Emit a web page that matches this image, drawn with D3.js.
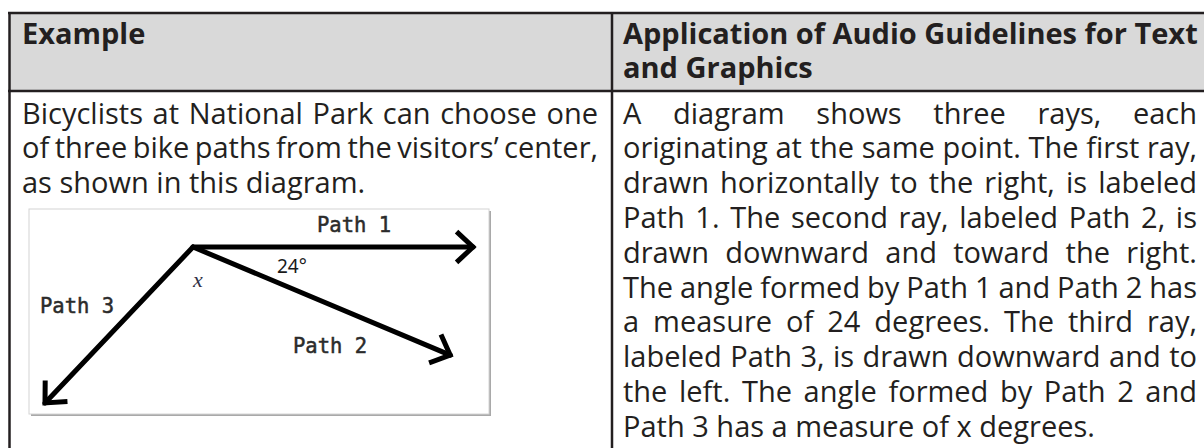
<!DOCTYPE html>
<html>
<head>
<meta charset="utf-8">
<script src="https://cdn.jsdelivr.net/npm/d3@7"></script>
<style>
  html, body { margin: 0; padding: 0; background: #fff; }
  svg { display: block; }
</style>
</head>
<body>
<svg id="chart" width="1204" height="448"></svg>
<script>
// ---------- data ----------
const headers = ["Example", "Application of Audio Guidelines for Text", "and Graphics"];
const leftLines = [
  "Bicyclists at National Park can choose one",
  "of three bike paths from the visitors\u2019 center,",
  "as shown in this diagram."
];
const rightLines = [
  "A diagram shows three rays, each",
  "originating at the same point. The first ray,",
  "drawn horizontally to the right, is labeled",
  "Path 1. The second ray, labeled Path 2, is",
  "drawn downward and toward the right.",
  "The angle formed by Path 1 and Path 2 has",
  "a measure of 24 degrees. The third ray,",
  "labeled Path 3, is drawn downward and to",
  "the left. The angle formed by Path 2 and",
  "Path 3 has a measure of x degrees."
];
const rayNames = ["Path 1", "Path 2", "Path 3"];
const rayAngles = [0, 22.8, 133.5];      // degrees, clockwise (downward) from the rightward horizontal
const rayLengths = [280, 279, 215];       // diagram units
const angleLabels = ["24\u00B0", "x"];

// ---------- setup ----------
const svg = d3.select("#chart");
const textColor = "#231f20";
const borderColor = "#231f20";
const bodyFont = "'Open Sans', 'Noto Sans', sans-serif";
const fontSize = 29;
const lineH = 34.8;

// measuring helper
const measurer = svg.append("text").attr("font-family", bodyFont).attr("visibility", "hidden");
function measure(str, weight, size) {
  measurer.attr("font-weight", weight || 400).attr("font-size", size).text(str);
  return measurer.node().getComputedTextLength();
}

// table background & borders
svg.append("rect").attr("x", 9).attr("y", 13).attr("width", 1204).attr("height", 78).attr("fill", "#d9d9d9");
const border = svg.append("g").attr("stroke", borderColor).attr("fill", "none");
border.append("line").attr("x1", 8).attr("x2", 1204).attr("y1", 13).attr("y2", 13).attr("stroke-width", 2.5);
border.append("line").attr("x1", 8).attr("x2", 1204).attr("y1", 91).attr("y2", 91).attr("stroke-width", 2.5);
border.append("line").attr("x1", 9.5).attr("x2", 9.5).attr("y1", 12).attr("y2", 448).attr("stroke-width", 2.5);
border.append("line").attr("x1", 612).attr("x2", 612).attr("y1", 12).attr("y2", 448).attr("stroke-width", 2.5);

// line placement: justified lines spread words to fill [x0, x1]
function drawLines(lines, x0, x1, y0, weight, justify) {
  const g = svg.append("g").attr("font-family", bodyFont).attr("font-size", fontSize)
    .attr("font-weight", weight).attr("fill", textColor);
  lines.forEach((line, i) => {
    const words = line.split(" ");
    const widths = words.map(w => measure(w, weight, fontSize));
    const spaceW = measure("a a", weight, fontSize) - measure("aa", weight, fontSize);
    const total = d3.sum(widths);
    const doJ = justify && i < lines.length - 1 && words.length > 1;
    const gap = doJ ? Math.max(2, (x1 - x0 - total) / (words.length - 1)) : spaceW;
    const t = g.append("text").attr("y", y0 + i * lineH);
    let x = x0;
    words.forEach((w, j) => {
      t.append("tspan").attr("x", x).text(w);
      x += widths[j] + gap;
    });
  });
}

// headers
drawLines([headers[0]], 22, 600, 43.5, 700, false);
drawLines([headers[1], headers[2]], 623, 1198, 43.5, 700, false);

// body text
drawLines(leftLines, 22, 598, 123.5, 400, true);
drawLines(rightLines, 623, 1197, 123.5, 400, true);

// ---------- diagram ----------
const frame = {x: 29, y: 209, w: 460, h: 205};
const dg = svg.append("g");
dg.append("rect").attr("x", frame.x + 2).attr("y", frame.y + 2).attr("width", frame.w).attr("height", frame.h)
  .attr("fill", "#a9a9a9");
dg.append("rect").attr("x", frame.x).attr("y", frame.y).attr("width", frame.w).attr("height", frame.h)
  .attr("fill", "#fff").attr("stroke", "#d4d4d4").attr("stroke-width", 1);

const origin = [193, 247];
const unit = d3.scaleLinear().domain([0, 1]).range([0, 1]);
const rays = rayNames.map((n, i) => {
  const a = rayAngles[i] * Math.PI / 180;
  const L = unit(rayLengths[i]);
  return {name: n, a, end: [origin[0] + L * Math.cos(a), origin[1] + L * Math.sin(a)]};
});
const line = d3.line();
dg.selectAll("path.ray").data(rays).join("path").attr("class", "ray")
  .attr("d", d => line([origin, d.end]))
  .attr("stroke", "#000").attr("stroke-width", 5).attr("fill", "none").attr("stroke-linecap", "round");
// arrowheads (open chevrons)
const arm = 20, spread = 43 * Math.PI / 180;
dg.selectAll("path.head").data(rays).join("path").attr("class", "head")
  .attr("d", d => {
    const [tx, ty] = d.end;
    const p1 = [tx - arm * Math.cos(d.a - spread), ty - arm * Math.sin(d.a - spread)];
    const p2 = [tx - arm * Math.cos(d.a + spread), ty - arm * Math.sin(d.a + spread)];
    return line([p1, [tx, ty], p2]);
  })
  .attr("stroke", "#000").attr("stroke-width", 5).attr("fill", "none")
  .attr("stroke-linejoin", "miter").attr("stroke-linecap", "square");

// ray labels
const monoFont = "'DejaVu Sans Mono', 'Liberation Mono', monospace";
const labelOffsets = [[124, -15], [100, 106], [-153, 66]];
dg.selectAll("text.rl").data(rays).join("text").attr("class", "rl")
  .attr("x", (d, i) => origin[0] + labelOffsets[i][0])
  .attr("y", (d, i) => origin[1] + labelOffsets[i][1])
  .attr("font-family", monoFont).attr("font-size", 20.5).attr("fill", "#2b2b2b")
  .attr("stroke", "#2b2b2b").attr("stroke-width", 0.5)
  .text(d => d.name);

// angle labels
dg.append("text").attr("x", origin[0] + 84).attr("y", origin[1] + 26)
  .attr("font-family", "'Noto Sans', sans-serif").attr("font-size", 19).attr("fill", "#1a1a1a").text(angleLabels[0]);
dg.append("text").attr("x", origin[0] + 0).attr("y", origin[1] + 40)
  .attr("font-family", "'Liberation Serif', serif").attr("font-style", "italic").attr("font-size", 22)
  .attr("fill", "#2f3146").text(angleLabels[1]);
</script>
</body>
</html>
